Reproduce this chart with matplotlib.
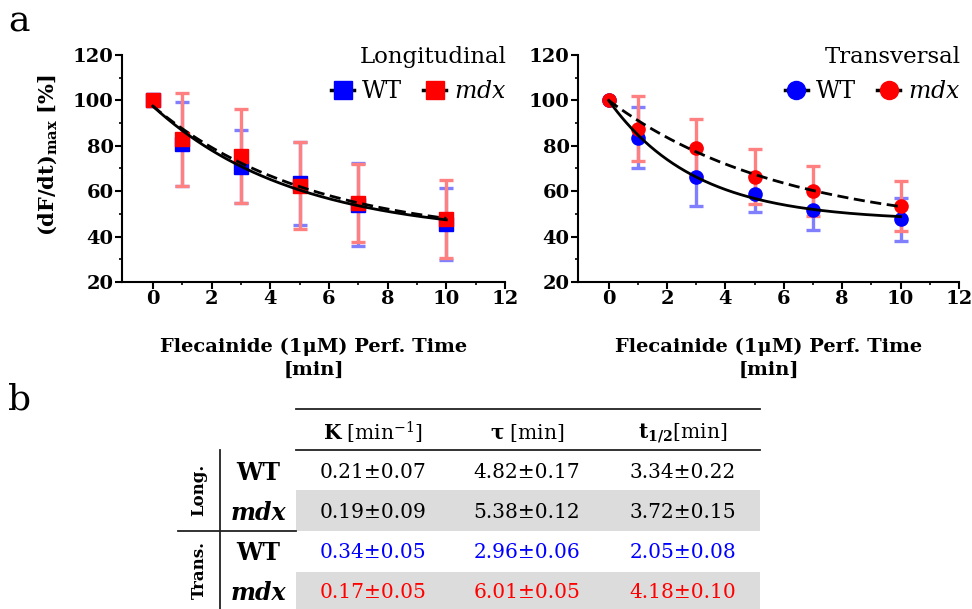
import numpy as np
import matplotlib
matplotlib.use("Agg")
import matplotlib.pyplot as plt
from matplotlib.lines import Line2D
from matplotlib.patches import Rectangle

plt.rcParams['font.family'] = 'DejaVu Serif'
plt.rcParams['mathtext.fontset'] = 'dejavuserif'

# perfusion times [min]
time = [0, 1, 3, 5, 7, 10]

# longitudinal
long_wt = [100, 81.0, 70.8, 63.4, 54.0, 45.5]
long_wt_err = [0, 18.5, 16.0, 18.3, 18.3, 16.0]
long_mdx = [100, 82.9, 75.4, 62.4, 54.8, 47.9]
long_mdx_err = [0, 20.5, 20.8, 19.2, 17.2, 17.2]

# transversal
trans_wt = [100, 83.5, 66.4, 58.8, 51.8, 47.7]
trans_wt_err = [0, 13.4, 12.7, 7.8, 9.1, 9.5]
trans_mdx = [100, 87.6, 79.1, 66.4, 60.2, 53.5]
trans_mdx_err = [0, 14.2, 12.5, 12.1, 11.0, 11.2]

# mono-exponential fits: start, plateau, tau [min]
fit_long_wt = (97.5, 40.2, 4.82)
fit_long_mdx = (97.5, 38.9, 5.38)
fit_trans_wt = (100.0, 47.0, 2.96)
fit_trans_mdx = (100.0, 42.3, 6.01)

# table
col_headers = [r'$\mathbf{K}$ [min$^{\mathregular{-1}}$]', r'$\mathbf{\tau}$ [min]',
               r'$\mathbf{t_{1/2}}$[min]']
row_groups = ['Long.', 'Trans.']
row_labels = ['WT', 'mdx', 'WT', 'mdx']
table_vals = [
    ['0.21±0.07', '4.82±0.17', '3.34±0.22'],
    ['0.19±0.09', '5.38±0.12', '3.72±0.15'],
    ['0.34±0.05', '2.96±0.06', '2.05±0.08'],
    ['0.17±0.05', '6.01±0.05', '4.18±0.10'],
]
row_colors = ['black', 'black', '#0000ff', '#ff0000']

BLUE = '#0000ff'
RED = '#ff0000'
LBLUE = '#8080ff'
LRED = '#ff8080'

fig = plt.figure(figsize=(9.72, 6.09), dpi=100)


def px(x, y):
    return x / 972, 1 - y / 609


def panel(ax, wt, wt_err, mdx, mdx_err, fit_wt, fit_mdx, marker, title):
    t = np.array(time)
    ax.errorbar(t[1:], np.array(wt)[1:], yerr=np.array(wt_err)[1:], fmt='none',
                ecolor=LBLUE, elinewidth=2.4, capsize=5, capthick=2.4, zorder=2)
    ax.errorbar(t[1:], np.array(mdx)[1:], yerr=np.array(mdx_err)[1:], fmt='none',
                ecolor=LRED, elinewidth=2.4, capsize=5, capthick=2.4, zorder=3)
    ax.plot(t, wt, ls='none', marker=marker, ms=9.5, color=BLUE, mec=BLUE, zorder=4)
    ax.plot(t, mdx, ls='none', marker=marker, ms=9.5, color=RED, mec=RED, zorder=5)
    tt = np.linspace(0, 10, 200)
    y0, p, tau = fit_wt
    ax.plot(tt, p + (y0 - p) * np.exp(-tt / tau), color='k', lw=2, zorder=6)
    y0, p, tau = fit_mdx
    ax.plot(tt, p + (y0 - p) * np.exp(-tt / tau), color='k', lw=2, ls=(0, (4, 2)), zorder=6)

    ax.set_xlim(-1.05, 12)
    ax.set_ylim(20, 120)
    ax.set_xticks(range(0, 13, 2))
    ax.set_xticks(range(0, 13), minor=True)
    ax.set_yticks(range(20, 121, 20))
    ax.set_yticks(range(20, 121, 10), minor=True)
    for s in ['top', 'right']:
        ax.spines[s].set_visible(False)
    for s in ['left', 'bottom']:
        ax.spines[s].set_linewidth(1.5)
    ax.tick_params(which='major', length=5, width=1.5, pad=1, labelsize=14)
    ax.tick_params(which='minor', length=2.5, width=1.2)
    for lab in ax.get_xticklabels() + ax.get_yticklabels():
        lab.set_fontweight('bold')
    ax.set_xlabel('Flecainide (1μM) Perf. Time\n[min]', fontsize=14,
                  fontweight='bold', linespacing=1.4, labelpad=21)

    h_wt = Line2D([], [], color='k', lw=2.5, marker=marker, ms=13, mfc=BLUE, mec=BLUE)
    h_mdx = Line2D([], [], color='k', lw=2.5, marker=marker, ms=13, mfc=RED, mec=RED)
    leg = ax.legend([h_wt, h_mdx], ['WT', r'$\mathit{mdx}$'], ncol=2, loc='upper right',
                    bbox_to_anchor=(1.035, 1.09), frameon=False, fontsize=17,
                    title=title, title_fontsize=16.5, handlelength=0.95,
                    handletextpad=0.35, columnspacing=0.9, borderpad=0,
                    labelspacing=0.5, alignment='right')
    return leg


ax1 = fig.add_axes([122 / 972, 1 - 282 / 609, 383 / 972, 227 / 609])
ax2 = fig.add_axes([578 / 972, 1 - 282 / 609, 381 / 972, 227 / 609])
panel(ax1, long_wt, long_wt_err, long_mdx, long_mdx_err, fit_long_wt, fit_long_mdx,
      's', 'Longitudinal')
panel(ax2, trans_wt, trans_wt_err, trans_mdx, trans_mdx_err, fit_trans_wt, fit_trans_mdx,
      'o', 'Transversal')

fig.text(*px(48, 155), r'(dF/dt)$_{\mathbf{max}}$ [%]', rotation=90, fontsize=15,
         fontweight='bold', ha='center', va='center')

fig.text(*px(8, 32), 'a', fontsize=26, ha='left', va='baseline')
fig.text(*px(8, 410), 'b', fontsize=26, ha='left', va='baseline')

# ---- table (panel b) ----
x_left, x_right = 296, 760
col_x = [373, 527, 683]
row_y = [473, 513, 553, 593]
grey_rows = [(490, 531), (572, 609)]

for y_top, y_bot in grey_rows:
    x0, y0 = px(x_left, y_bot)
    fig.patches.append(Rectangle((x0, y0), (x_right - x_left) / 972, (y_bot - y_top) / 609,
                                 transform=fig.transFigure, facecolor='#dcdcdc',
                                 edgecolor='none', zorder=0))

def hline(x0, x1, y, lw=1.3):
    a, b = px(x0, y)
    c, _ = px(x1, y)
    fig.add_artist(Line2D([a, c], [b, b], color='#222222', lw=lw, transform=fig.transFigure))

hline(x_left, x_right, 409)
hline(x_left, x_right, 450)
hline(178, x_left, 531)
vx, vy0 = px(220, 450)
_, vy1 = px(220, 609)
fig.add_artist(Line2D([vx, vx], [vy0, vy1], color='#222222', lw=1.3,
                      transform=fig.transFigure))

for x, h in zip(col_x, col_headers):
    fig.text(*px(x, 433), h, fontsize=14.5, ha='center', va='center')

for i, (y, lab) in enumerate(zip(row_y, row_labels)):
    style = 'italic' if lab == 'mdx' else 'normal'
    fig.text(*px(258, y), lab, fontsize=17, fontweight='bold', fontstyle=style,
             ha='center', va='center')
    for x, v in zip(col_x, table_vals[i]):
        fig.text(*px(x, y), v, fontsize=14.5, color=row_colors[i], ha='center', va='center')

for y, g in zip([490, 570], row_groups):
    fig.text(*px(199, y), g, fontsize=12, fontweight='bold', rotation=90,
             ha='center', va='center')

fig.savefig('out.png', dpi=100)
